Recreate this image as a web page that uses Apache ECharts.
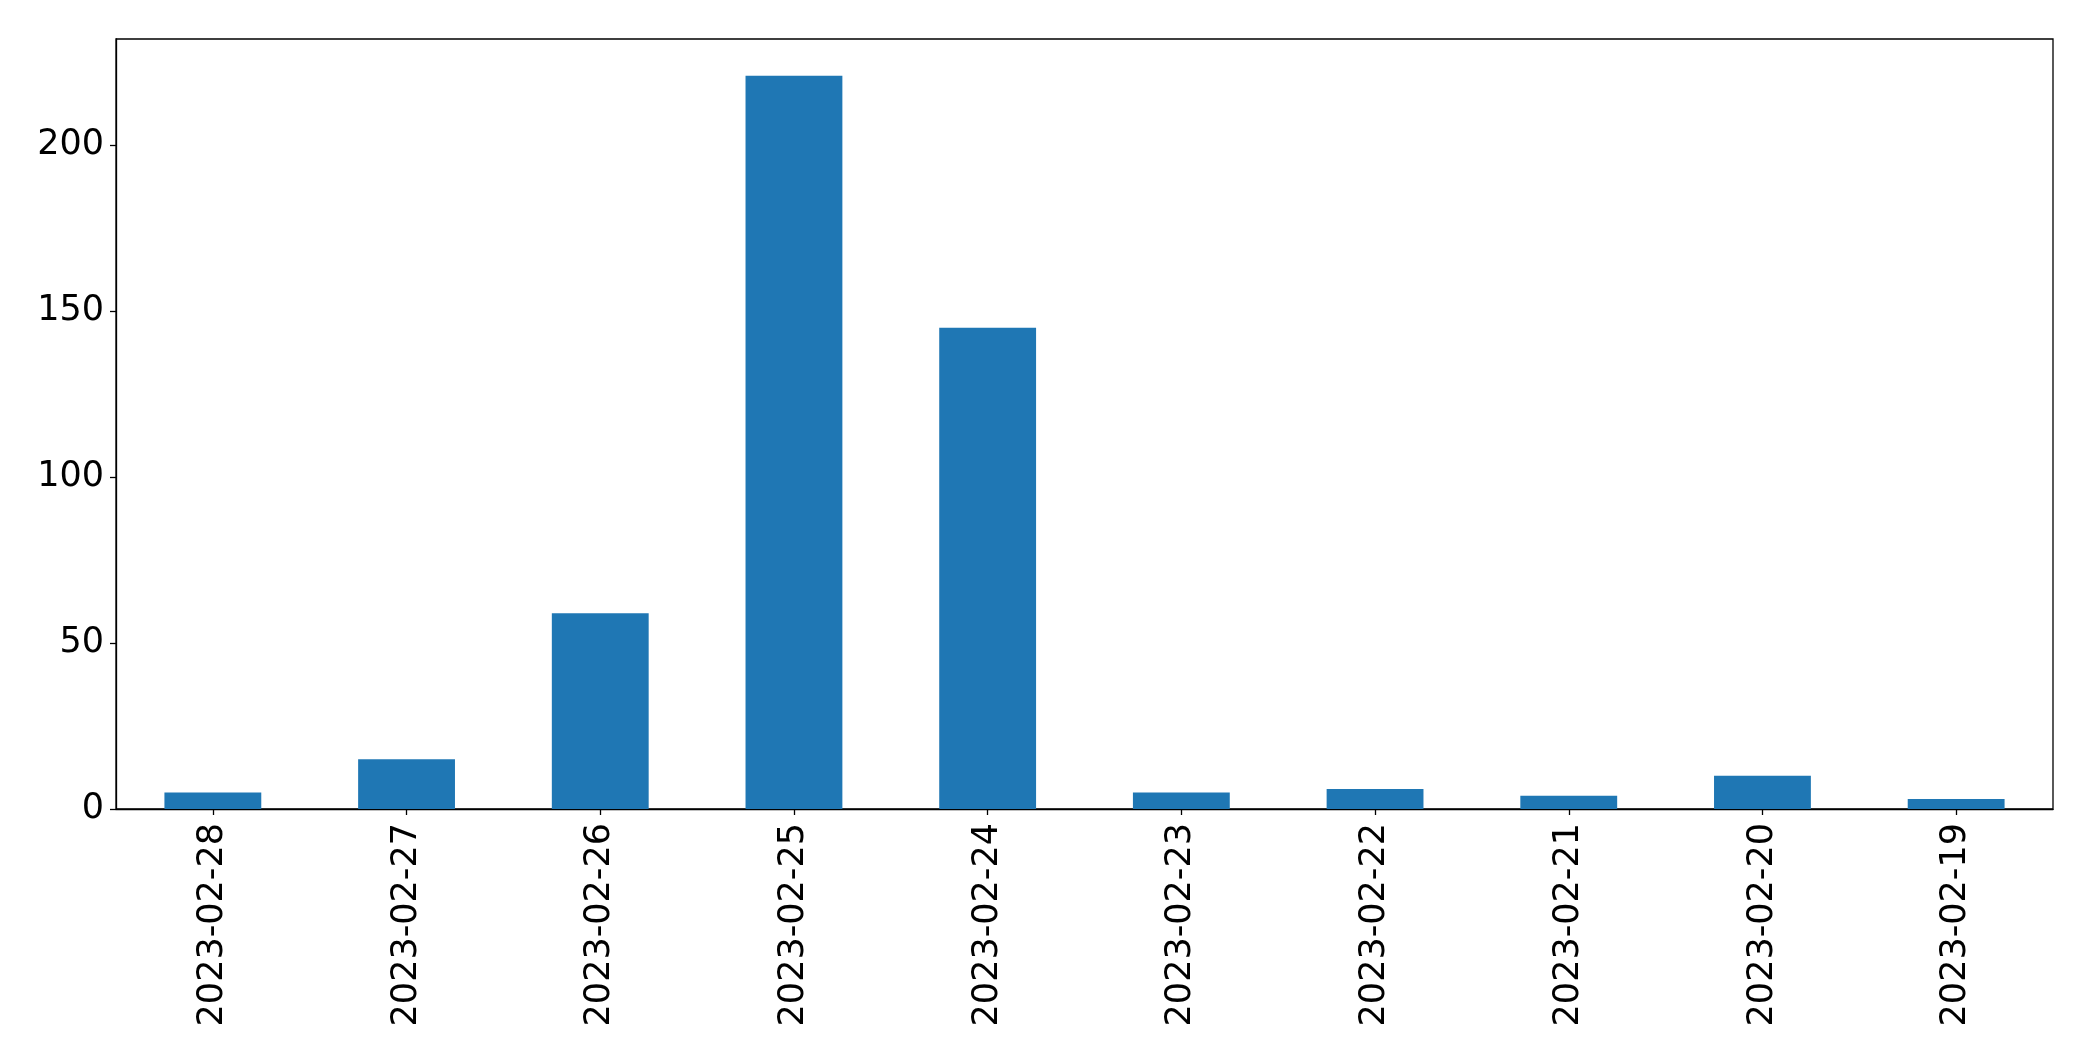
<!DOCTYPE html>
<html>
<head>
<meta charset="utf-8">
<script src="https://cdn.jsdelivr.net/npm/echarts@6/dist/echarts.min.js"></script>
<style>
html,body{margin:0;padding:0;background:#fff;}
#chart{width:2093px;height:1061px;}
</style>
</head>
<body>
<div id="chart"></div>
<script>
const categories = ['2023-02-28','2023-02-27','2023-02-26','2023-02-25','2023-02-24','2023-02-23','2023-02-22','2023-02-21','2023-02-20','2023-02-19'];
const values = [5, 15, 59, 221, 145, 5, 6, 4, 10, 3];
const yTicks = [0, 50, 100, 150, 200];

const chart = echarts.init(document.getElementById('chart'), null, {renderer: 'canvas'});
const font = 'DejaVu Sans';
chart.setOption({
  animation: false,
  grid: {left: 116, right: 40, top: 39, bottom: 252, show: true, borderColor: '#000', borderWidth: 1.3, backgroundColor: 'transparent'},
  xAxis: {
    type: 'category',
    data: categories,
    boundaryGap: true,
    axisLine: {show: true, lineStyle: {color: '#000', width: 1.3}},
    axisTick: {show: true, alignWithLabel: true, length: 6, lineStyle: {color: '#000', width: 1.3}},
    axisLabel: {rotate: 90, fontFamily: font, fontSize: 35, color: '#000', margin: 14, interval: 0}
  },
  yAxis: {
    type: 'value',
    min: 0,
    max: 232.05,
    interval: 50,
    splitLine: {show: false},
    axisLine: {show: true, lineStyle: {color: '#000', width: 1.3}},
    axisTick: {show: true, length: 6, customValues: yTicks, lineStyle: {color: '#000', width: 1.3}},
    axisLabel: {fontFamily: font, fontSize: 35, color: '#000', margin: 12, customValues: yTicks}
  },
  series: [{
    type: 'bar',
    data: values,
    barWidth: '50%',
    itemStyle: {color: '#1f77b4'}
  }]
});
</script>
</body>
</html>
